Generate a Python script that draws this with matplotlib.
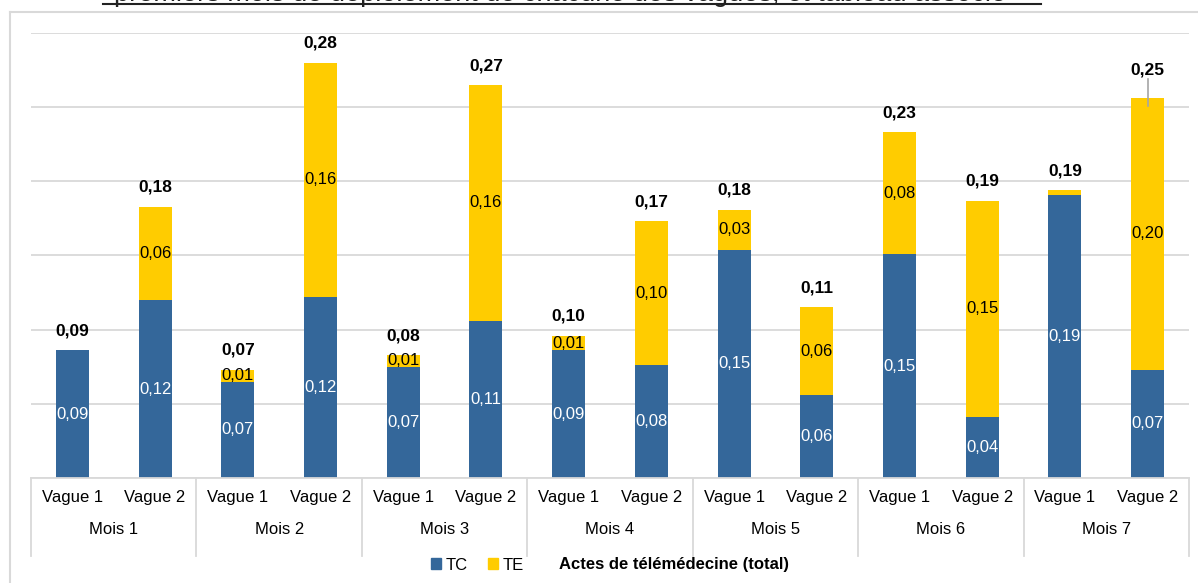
import matplotlib.pyplot as plt
import matplotlib.transforms as mtransforms
from matplotlib.patches import Patch
from matplotlib.lines import Line2D
import numpy as np

plt.rcParams['font.family'] = ['Liberation Sans', 'DejaVu Sans']

months = ['Mois 1', 'Mois 2', 'Mois 3', 'Mois 4', 'Mois 5', 'Mois 6', 'Mois 7']
waves = ['Vague 1', 'Vague 2']

# values (TC bottom, TE on top)
tc = [0.086, 0.120, 0.065, 0.122, 0.075, 0.106, 0.086, 0.076,
      0.154, 0.056, 0.151, 0.041, 0.191, 0.073]
te = [0.000, 0.063, 0.008, 0.158, 0.008, 0.159, 0.010, 0.097,
      0.027, 0.059, 0.082, 0.146, 0.003, 0.183]

# labels as printed on the chart
tc_labels = ['0,09', '0,12', '0,07', '0,12', '0,07', '0,11', '0,09', '0,08',
             '0,15', '0,06', '0,15', '0,04', '0,19', '0,07']
te_labels = ['', '0,06', '0,01', '0,16', '0,01', '0,16', '0,01', '0,10',
             '0,03', '0,06', '0,08', '0,15', '', '0,20']
total_labels = ['0,09', '0,18', '0,07', '0,28', '0,08', '0,27', '0,10', '0,17',
                '0,18', '0,11', '0,23', '0,19', '0,19', '0,25']

blue = '#34679A'
yellow = '#FFCC00'
grid_col = '#D9D9D9'

tc = np.array(tc)
te = np.array(te)
total = tc + te
x = np.arange(len(tc))

fig = plt.figure(figsize=(11.98, 5.83), dpi=100)
ax = fig.add_axes([31 / 1198, 105 / 583, 1158 / 1198, 445 / 583])

ax.bar(x, tc, width=0.4, color=blue, zorder=2)
ax.bar(x, te, width=0.4, bottom=tc, color=yellow, zorder=2)

for i in x:
    ax.text(i, tc[i] / 2, tc_labels[i], ha='center', va='center',
            color='white', fontsize=12, zorder=3)
    if te_labels[i]:
        ax.text(i, tc[i] + te[i] / 2, te_labels[i], ha='center', va='center',
                color='black', fontsize=12, zorder=3)

# total labels above bars
for i in x:
    if i == len(x) - 1:
        ax.text(i, total[i] + 0.014, total_labels[i], ha='center', va='bottom',
                fontsize=12.5, fontweight='bold', zorder=3)
        ax.plot([i, i], [total[i] + 0.013, total[i] - 0.005], color='#A6A6A6',
                lw=1.2, zorder=3)
    else:
        ax.text(i, total[i] + 0.008, total_labels[i], ha='center', va='bottom',
                fontsize=12.5, fontweight='bold', zorder=3)

ax.set_xlim(-0.5, len(x) - 0.5)
ax.set_ylim(0, 0.30)
ax.set_yticks(np.arange(0, 0.301, 0.05))
ax.yaxis.grid(True, color=grid_col, lw=1.3)
ax.set_axisbelow(True)
ax.tick_params(axis='y', left=False, labelleft=False)
ax.tick_params(axis='x', bottom=False)
for s in ['top', 'right', 'left']:
    ax.spines[s].set_visible(False)
ax.spines['bottom'].set_color(grid_col)
ax.spines['bottom'].set_linewidth(1.3)

ax.set_xticks(x)
ax.set_xticklabels(waves * len(months), fontsize=12)
ax.tick_params(axis='x', pad=5)

trans = mtransforms.blended_transform_factory(ax.transData, ax.transAxes)
for k, m in enumerate(months):
    ax.text(2 * k + 0.5, -0.115, m, transform=trans, ha='center', va='center',
            fontsize=12)
for k in range(len(months) + 1):
    ax.plot([2 * k - 0.5, 2 * k - 0.5], [0, -0.175], transform=trans,
            color=grid_col, lw=1.3, clip_on=False)

# legend
handles = [Patch(color=blue), Patch(color=yellow), Line2D([], [], color='none')]
leg = fig.legend(handles, ['TC', 'TE', 'Actes de télémédecine (total)'],
                 loc='center', bbox_to_anchor=(610 / 1198, 1 - 565 / 583),
                 ncol=3, frameon=False, fontsize=12, handlelength=0.6,
                 handleheight=0.6, handletextpad=0.3, columnspacing=1.2)
leg.get_texts()[2].set_fontweight('bold')

# outer frame of the chart
fig.add_artist(Line2D([10 / 1198, 10 / 1198], [0, 1 - 12 / 583],
                      transform=fig.transFigure, color=grid_col, lw=1.5))
fig.add_artist(Line2D([10 / 1198, 1], [1 - 12 / 583, 1 - 12 / 583],
                      transform=fig.transFigure, color=grid_col, lw=1.5))

# title of the page, cut off by the top edge as in the source
fig.text(560 / 1198, 1 - 1 / 583,
         'premiers mois de déploiement de chacune des vagues, et tableau associé',
         ha='center', va='baseline', fontsize=19.5, color='#222222')
fig.add_artist(Line2D([103 / 1198, 1041 / 1198], [1 - 4 / 583, 1 - 4 / 583],
                      transform=fig.transFigure, color='#222222', lw=1.5))

fig.savefig('out.png', dpi=100)
